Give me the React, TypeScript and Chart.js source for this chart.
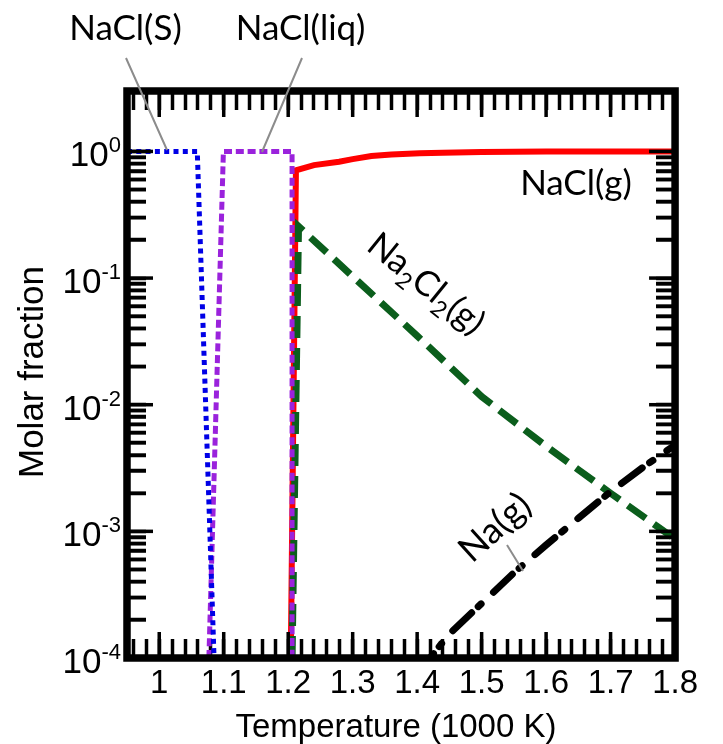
import React, { useEffect, useRef } from "react";
import { Chart, registerables } from "chart.js";

Chart.register(...registerables);

// ---------- data ----------
const xTickValues = [1, 1.1, 1.2, 1.3, 1.4, 1.5, 1.6, 1.7, 1.8];
const xTickLabels = ["1", "1.1", "1.2", "1.3", "1.4", "1.5", "1.6", "1.7", "1.8"];
const yTickValues = [1, 0.1, 0.01, 0.001, 0.0001];
const yTickExponents = ["0", "-1", "-2", "-3", "-4"];
const yMinorMultipliers = [2, 3, 4, 5, 6, 7, 8, 9];

const naclSolidT = [0.95, 1.059, 1.085];
const naclSolidY = [1, 1, 1e-4];

const naclLiqT = [1.077, 1.0995, 1.206, 1.206];
const naclLiqY = [1e-4, 1, 1, 1e-4];

const naclGasT = [1.204, 1.212, 1.24, 1.279, 1.3, 1.329, 1.36, 1.404, 1.44, 1.5, 1.6, 1.8];
const naclGasY = [1e-4, 0.71, 0.78, 0.83, 0.87, 0.92, 0.944, 0.966, 0.977, 0.99, 0.998, 1.0];

const na2cl2T = [1.206, 1.216, 1.3, 1.4, 1.5, 1.6, 1.7, 1.775, 1.8];
const na2cl2Y = [1e-4, 0.256, 0.103, 0.035, 0.0116, 0.0047, 0.002, 0.00107, 0.00087];

const naT = [1.4, 1.45, 1.5, 1.55, 1.6, 1.65, 1.7, 1.75, 1.8];
const naY = [7.5e-5, 1.55e-4, 2.7e-4, 4.7e-4, 7.8e-4, 1.27e-3, 2.06e-3, 3.2e-3, 4.8e-3];

const xAxisTitle = "Temperature (1000 K)";
const yAxisTitle = "Molar fraction";

// ---------- helpers ----------
const pts = (xs: number[], ys: number[]) => xs.map((x, i) => ({ x, y: ys[i] }));

// inward tick positions: x every 0.02 (up to 1.8), y at 1..9 x 10^n
const xAllTicks = Array.from({ length: 43 }, (_, i) => (48 + i) / 50);
const yMinorTicks = yTickValues.slice(1).flatMap((b) => yMinorMultipliers.map((k) => b * k));
const yMajorTicks = yTickValues.slice(0, 4);
const yAllTicks = [...yMajorTicks, ...yMinorTicks].sort((p, q) => p - q);

const SANS = '"Liberation Sans", Arial, Helvetica, sans-serif';
const ANNOT = 'Lato, "Open Sans", "Noto Sans", sans-serif';

type Seg = { t: string; sub?: boolean };

function drawRich(ctx: CanvasRenderingContext2D, segs: Seg[], x: number, y: number, angle: number, size: number, subSize: number, subDrop: number) {
  ctx.save();
  ctx.translate(x, y);
  ctx.rotate(angle);
  ctx.textAlign = "left";
  ctx.textBaseline = "alphabetic";
  let cx = 0;
  segs.forEach((s) => {
    ctx.font = `${s.sub ? subSize : size}px ${ANNOT}`;
    ctx.fillText(s.t, cx, s.sub ? subDrop : 0);
    cx += ctx.measureText(s.t).width;
  });
  ctx.restore();
}

function tickLine(ctx: CanvasRenderingContext2D, x1: number, y1: number, x2: number, y2: number) {
  ctx.save();
  ctx.beginPath();
  ctx.lineWidth = 3.5;
  ctx.strokeStyle = "#000000";
  ctx.setLineDash([]);
  ctx.moveTo(x1, y1);
  ctx.lineTo(x2, y2);
  ctx.stroke();
  ctx.restore();
}

const inwardGrid = {
  display: true,
  drawOnChartArea: false,
  drawTicks: true,
  tickLength: -19,
  tickWidth: 3.5,
  tickColor: "#000000",
};

const tickPlugin = {
  id: "inwardTicks",
  afterDraw(chart: any) {
    const ctx: CanvasRenderingContext2D = chart.ctx;
    const a = chart.chartArea;
    const xs = chart.scales.x;
    const ys = chart.scales.y;
    // longer major x ticks
    xTickValues.forEach((t) => {
      const px = xs.getPixelForValue(t);
      tickLine(ctx, px, a.bottom, px, a.bottom - 26);
      tickLine(ctx, px, a.top, px, a.top + 26);
    });
    // y ticks on both sides
    yMajorTicks.forEach((t) => {
      const py = ys.getPixelForValue(t);
      tickLine(ctx, a.left, py, a.left + 26, py);
      tickLine(ctx, a.right, py, a.right - 26, py);
    });
    yMinorTicks.forEach((t) => {
      const py = ys.getPixelForValue(t);
      tickLine(ctx, a.left, py, a.left + 19, py);
      tickLine(ctx, a.right, py, a.right - 19, py);
    });
    ctx.save();
    ctx.strokeStyle = "#000000";
    ctx.lineWidth = 7.5;
    ctx.setLineDash([]);
    ctx.strokeRect(a.left, a.top, a.right - a.left, a.bottom - a.top);
    ctx.restore();
  },
};

const textPlugin = {
  id: "texts",
  afterDraw(chart: any) {
    const ctx: CanvasRenderingContext2D = chart.ctx;
    const ys = chart.scales.y;
    ctx.save();
    ctx.fillStyle = "#000000";
    // y tick labels with superscripts
    yTickValues.forEach((val, i) => {
      const py = ys.getPixelForValue(val);
      const exp = yTickExponents[i];
      const right = 121;
      ctx.textBaseline = "alphabetic";
      ctx.font = `22px ${SANS}`;
      const ew = ctx.measureText(exp).width;
      ctx.textAlign = "left";
      ctx.fillText(exp, right - ew, py + 1);
      ctx.font = `35px ${SANS}`;
      ctx.textAlign = "right";
      ctx.fillText("10", right - ew, py + 15);
    });

    // axis titles
    ctx.font = `33px ${SANS}`;
    ctx.textAlign = "center";
    ctx.textBaseline = "alphabetic";
    ctx.fillText(xAxisTitle, 396, 737);
    ctx.save();
    ctx.translate(33, 372);
    ctx.rotate(-Math.PI / 2);
    ctx.font = `35px ${SANS}`;
    ctx.textBaseline = "middle";
    ctx.fillText(yAxisTitle, 0, 0);
    ctx.restore();

    // annotations
    ctx.font = `35px ${ANNOT}`;
    ctx.textAlign = "center";
    ctx.textBaseline = "alphabetic";
    ctx.fillText("NaCl(S)", 125.5, 40);
    ctx.fillText("NaCl(liq)", 300.5, 40);
    ctx.fillText("NaCl(g)", 576, 195);
    drawRich(ctx, [{ t: "Na" }, { t: "2", sub: true }, { t: "Cl" }, { t: "2", sub: true }, { t: "(g)" }], 365, 249, (39 * Math.PI) / 180, 35, 23, 8);
    drawRich(ctx, [{ t: "Na(g)" }], 472, 564, (-42 * Math.PI) / 180, 36, 23, 8);

    // leader lines
    ctx.strokeStyle = "#8c8c8c";
    ctx.lineWidth = 2;
    ctx.beginPath();
    ctx.moveTo(126, 58);
    ctx.lineTo(167, 150);
    ctx.moveTo(302, 58);
    ctx.lineTo(262, 152);
    ctx.moveTo(507, 545);
    ctx.lineTo(523, 571);
    ctx.stroke();
    ctx.restore();
  },
};

const xLabelFor = (v: number) => {
  const idx = xTickValues.findIndex((m) => Math.abs(m - v) < 1e-6);
  return idx >= 0 ? xTickLabels[idx] : "";
};

export default function App() {
  const ref = useRef<HTMLCanvasElement>(null);
  useEffect(() => {
    const canvas = ref.current;
    if (!canvas) return;
    const chart = new Chart(canvas, {
      type: "line",
      data: {
        datasets: [
          {
            label: "NaCl(S)",
            data: pts(naclSolidT, naclSolidY),
            borderColor: "#0000e6",
            borderWidth: 5,
            borderDash: [5, 4.3],
            borderCapStyle: "butt",
            borderJoinStyle: "miter",
            pointRadius: 0,
            tension: 0,
          },
          {
            label: "NaCl(liq)",
            data: pts(naclLiqT, naclLiqY),
            borderColor: "#9a22dc",
            borderWidth: 5,
            borderDash: [8, 3.8],
            borderCapStyle: "butt",
            borderJoinStyle: "miter",
            pointRadius: 0,
            tension: 0,
          },
          {
            label: "Na(g)",
            data: pts(naT, naY),
            borderColor: "#000000",
            borderWidth: 7,
            borderDash: [26, 9, 4, 17],
            borderCapStyle: "round",
            pointRadius: 0,
            tension: 0,
          },
          {
            label: "Na2Cl2(g)",
            data: pts(na2cl2T, na2cl2Y),
            borderColor: "#0b5e1c",
            borderWidth: 7,
            borderDash: [22, 10],
            borderCapStyle: "butt",
            pointRadius: 0,
            tension: 0,
          },
          {
            label: "NaCl(g)",
            data: pts(naclGasT, naclGasY),
            borderColor: "#ff0000",
            borderWidth: 6,
            borderCapStyle: "butt",
            pointRadius: 0,
            tension: 0,
          },
        ],
      },
      options: {
        animation: false,
        responsive: false,
        devicePixelRatio: 1,
        layout: { padding: { left: 127, right: 29, top: 91, bottom: 0 } },
        plugins: {
          legend: { display: false },
          tooltip: { enabled: false },
        },
        scales: {
          x: {
            type: "linear",
            position: "bottom",
            min: 0.95,
            max: 1.8,
            grid: inwardGrid,
            border: { display: false },
            afterBuildTicks: (s: any) => {
              s.ticks = xAllTicks.map((t) => ({ value: t }));
            },
            afterFit: (s: any) => {
              s.height = 86;
            },
            ticks: {
              autoSkip: false,
              maxRotation: 0,
              minRotation: 0,
              padding: 25,
              color: "#000",
              font: { family: SANS, size: 33 },
              callback: (v: any) => xLabelFor(Number(v)),
            },
          },
          x2: {
            type: "linear",
            position: "top",
            min: 0.95,
            max: 1.8,
            grid: inwardGrid,
            border: { display: false },
            afterBuildTicks: (s: any) => {
              s.ticks = xAllTicks.map((t) => ({ value: t }));
            },
            afterFit: (s: any) => {
              s.height = 0;
            },
            ticks: { display: false, autoSkip: false },
          },
          y: {
            type: "logarithmic",
            position: "left",
            min: 1e-4,
            max: 3,
            grid: inwardGrid,
            border: { display: false },
            afterBuildTicks: (s: any) => {
              s.ticks = yAllTicks.map((t) => ({ value: t }));
            },
            afterFit: (s: any) => {
              s.width = 0;
            },
            ticks: { display: false, autoSkip: false },
          },
          y2: {
            type: "logarithmic",
            position: "right",
            min: 1e-4,
            max: 3,
            grid: inwardGrid,
            border: { display: false },
            afterBuildTicks: (s: any) => {
              s.ticks = yAllTicks.map((t) => ({ value: t }));
            },
            afterFit: (s: any) => {
              s.width = 0;
            },
            ticks: { display: false, autoSkip: false },
          },
        },
      },
      plugins: [tickPlugin, textPlugin],
    } as any);
    return () => chart.destroy();
  }, []);
  return (
    <div style={{ position: "absolute", left: 0, top: 0, width: 723, height: 744, background: "#fff" }}>
      <canvas ref={ref} width={723} height={744} style={{ display: "block", width: 723, height: 744 }} />
    </div>
  );
}
